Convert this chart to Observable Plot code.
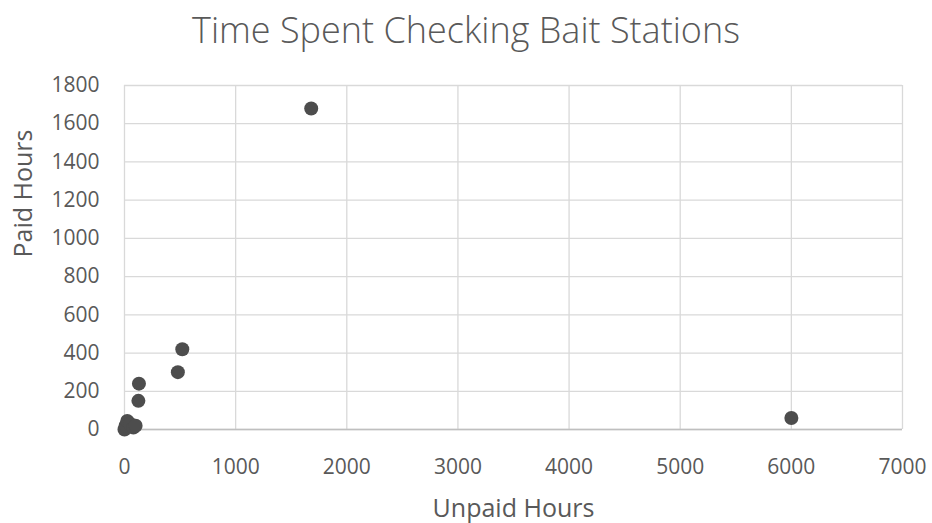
<!DOCTYPE html>
<html><head><meta charset="utf-8">
<script src="https://cdn.jsdelivr.net/npm/d3@7"></script>
<script src="https://cdn.jsdelivr.net/npm/@observablehq/plot@0.6"></script>
<style>
body{margin:0;background:#fff;font-family:"Open Sans",sans-serif;}
#title{height:62px;line-height:60px;text-align:center;font-size:36px;font-weight:300;color:#595959;width:932px;}
</style></head>
<body>
<div id="title">Time Spent Checking Bait Stations</div>
<div id="chart"></div>
<script>
const unpaidHours = [0, 10, 25, 50, 80, 100, 125, 130, 480, 520, 1680, 6000];
const paidHours   = [0, 20, 45, 30, 10, 20, 150, 240, 300, 420, 1680, 60];
const xTicks = [0, 1000, 2000, 3000, 4000, 5000, 6000, 7000];
const yTicks = [0, 200, 400, 600, 800, 1000, 1200, 1400, 1600, 1800];
const data = unpaidHours.map((u, i) => ({unpaid: u, paid: paidHours[i]}));

const chart = Plot.plot({
  width: 932,
  height: 461,
  marginTop: 23,
  marginBottom: 94,
  marginLeft: 124,
  marginRight: 30,
  style: {fontFamily: '"Open Sans", sans-serif', fontSize: "21px", color: "#595959", background: "#fff"},
  x: {domain: [0, 7000], ticks: xTicks, label: null},
  y: {domain: [0, 1800], ticks: yTicks, label: null},
  marks: [
    Plot.gridX(xTicks, {stroke: "#d9d9d9", strokeOpacity: 1, strokeWidth: 1.3}),
    Plot.gridY(yTicks, {stroke: "#d9d9d9", strokeOpacity: 1, strokeWidth: 1.3}),
    Plot.ruleY([0], {stroke: "#bfbfbf", strokeWidth: 1.5}),
    Plot.axisX(xTicks, {tickSize: 0, tickPadding: 30, fill: "#595959", fontSize: 21, tickFormat: d => String(d), label: null}),
    Plot.axisY(yTicks, {tickSize: 0, tickPadding: 25, fill: "#595959", fontSize: 21, tickFormat: d => String(d), label: null}),
    Plot.dot(data, {x: "unpaid", y: "paid", r: 7, fill: "#4d4d4d", stroke: "none"}),
    Plot.text(["Unpaid Hours"], {frameAnchor: "bottom", dy: 87, fontSize: 25, fill: "#595959", text: d => d}),
    Plot.text(["Paid Hours"], {frameAnchor: "left", dx: -101, rotate: -90, fontSize: 25, fill: "#595959", text: d => d})
  ]
});
document.getElementById("chart").appendChild(chart);
</script>
</body></html>
